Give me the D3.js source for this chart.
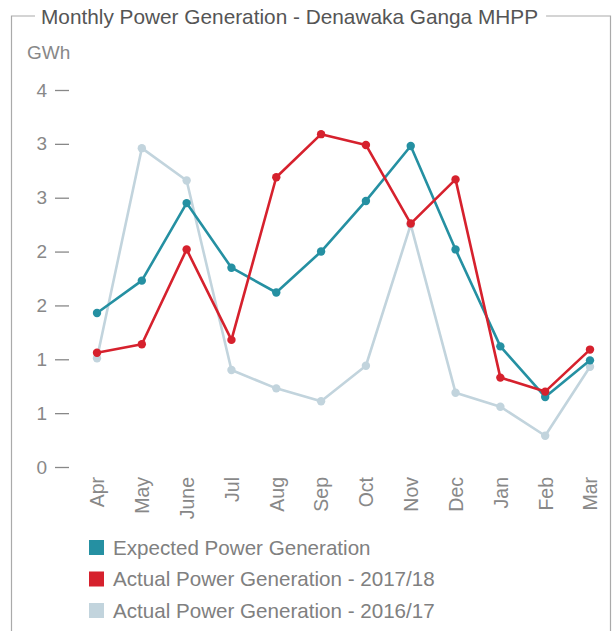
<!DOCTYPE html>
<html>
<head>
<meta charset="utf-8">
<script src="https://cdn.jsdelivr.net/npm/d3@7"></script>
<style>
  body { margin: 0; background: #fff; }
  text { font-family: "Liberation Sans", Arial, sans-serif; }
</style>
</head>
<body>
<script>
// data
const months = ['Apr', 'May', 'June', 'Jul', 'Aug', 'Sep', 'Oct', 'Nov', 'Dec', 'Jan', 'Feb', 'Mar'];
const expected = [1.43, 1.73, 2.45, 1.85, 1.62, 2.0, 2.47, 2.98, 2.02, 1.12, 0.65, 0.99];
const actual1718 = [1.06, 1.14, 2.02, 1.18, 2.69, 3.09, 2.99, 2.26, 2.67, 0.83, 0.70, 1.09];
const actual1617 = [1.01, 2.96, 2.66, 0.90, 0.73, 0.61, 0.94, 2.25, 0.69, 0.56, 0.29, 0.93];
const yTicks = [0, 0.5, 1, 1.5, 2, 2.5, 3, 3.5];

const series = [
  {name: 'Expected Power Generation', values: expected, color: '#2590a2'},
  {name: 'Actual Power Generation - 2017/18', values: actual1718, color: '#d6212d'},
  {name: 'Actual Power Generation - 2016/17', values: actual1617, color: '#c2d4dd'}
];
// draw order: light series at the back
const drawOrder = [series[2], series[0], series[1]];

const width = 613, height = 631;
const title = 'Monthly Power Generation - Denawaka Ganga MHPP';

const svg = d3.select('body').append('svg')
  .attr('width', width)
  .attr('height', height);

// frame with the title sitting in its top edge
const titleText = svg.append('text')
  .attr('x', 41)
  .attr('y', 24)
  .attr('font-size', 20.8)
  .attr('fill', '#555')
  .text(title);
const tw = titleText.node().getComputedTextLength();

svg.append('path')
  .attr('fill', 'none')
  .attr('stroke', '#aaa')
  .attr('stroke-width', 1.2)
  .attr('d', `M 35,16 H 11.5 V ${height} M ${41 + tw + 8},16 H 610.5 V ${height}`);

svg.append('text')
  .attr('x', 27)
  .attr('y', 59)
  .attr('font-size', 19)
  .attr('fill', '#888')
  .text('GWh');

const x = d3.scalePoint().domain(months).range([97, 590]);
const y = d3.scaleLinear().domain([0, 3.5]).range([467, 90]);

// y axis
const yAxis = svg.append('g')
  .attr('transform', 'translate(69,0)')
  .call(d3.axisLeft(y).tickValues(yTicks).tickSize(14).tickPadding(8)
    .tickFormat((d) => Math.round(d)));
yAxis.select('.domain').remove();
yAxis.selectAll('line').attr('stroke', '#888').attr('stroke-width', 1.3);
yAxis.selectAll('text')
  .attr('font-size', 19)
  .attr('fill', '#888')
  .attr('font-family', '"Liberation Sans", Arial, sans-serif');

// x axis labels, rotated
const xAxis = svg.append('g')
  .attr('transform', 'translate(0,477)')
  .call(d3.axisBottom(x).tickSize(0).tickPadding(0));
xAxis.select('.domain').remove();
xAxis.selectAll('text')
  .attr('font-size', 19.5)
  .attr('fill', '#888')
  .attr('font-family', '"Liberation Sans", Arial, sans-serif')
  .attr('transform', 'rotate(-90)')
  .attr('x', 0)
  .attr('y', 0)
  .attr('dy', '0.35em')
  .style('text-anchor', 'end');

const line = d3.line()
  .x((d, i) => x(months[i]))
  .y((d) => y(d));

const groups = svg.selectAll('.series')
  .data(drawOrder)
  .enter().append('g')
  .attr('class', 'series');

groups.append('path')
  .attr('fill', 'none')
  .attr('stroke', (d) => d.color)
  .attr('stroke-width', 2.6)
  .attr('stroke-linejoin', 'round')
  .attr('d', (d) => line(d.values));

groups.selectAll('circle')
  .data((d) => d.values.map((v, i) => ({v, i, color: d.color})))
  .enter().append('circle')
  .attr('cx', (d) => x(months[d.i]))
  .attr('cy', (d) => y(d.v))
  .attr('r', 4.2)
  .attr('fill', (d) => d.color);

// legend
const legend = svg.selectAll('.legend')
  .data(series)
  .enter().append('g')
  .attr('class', 'legend')
  .attr('transform', (d, i) => `translate(89,${540 + i * 31.5})`);

legend.append('rect')
  .attr('width', 15)
  .attr('height', 15)
  .attr('fill', (d) => d.color);

legend.append('text')
  .attr('x', 24)
  .attr('y', 7.5)
  .attr('dy', '0.35em')
  .attr('font-size', 20.6)
  .attr('fill', '#808080')
  .text((d) => d.name);
</script>
</body>
</html>
